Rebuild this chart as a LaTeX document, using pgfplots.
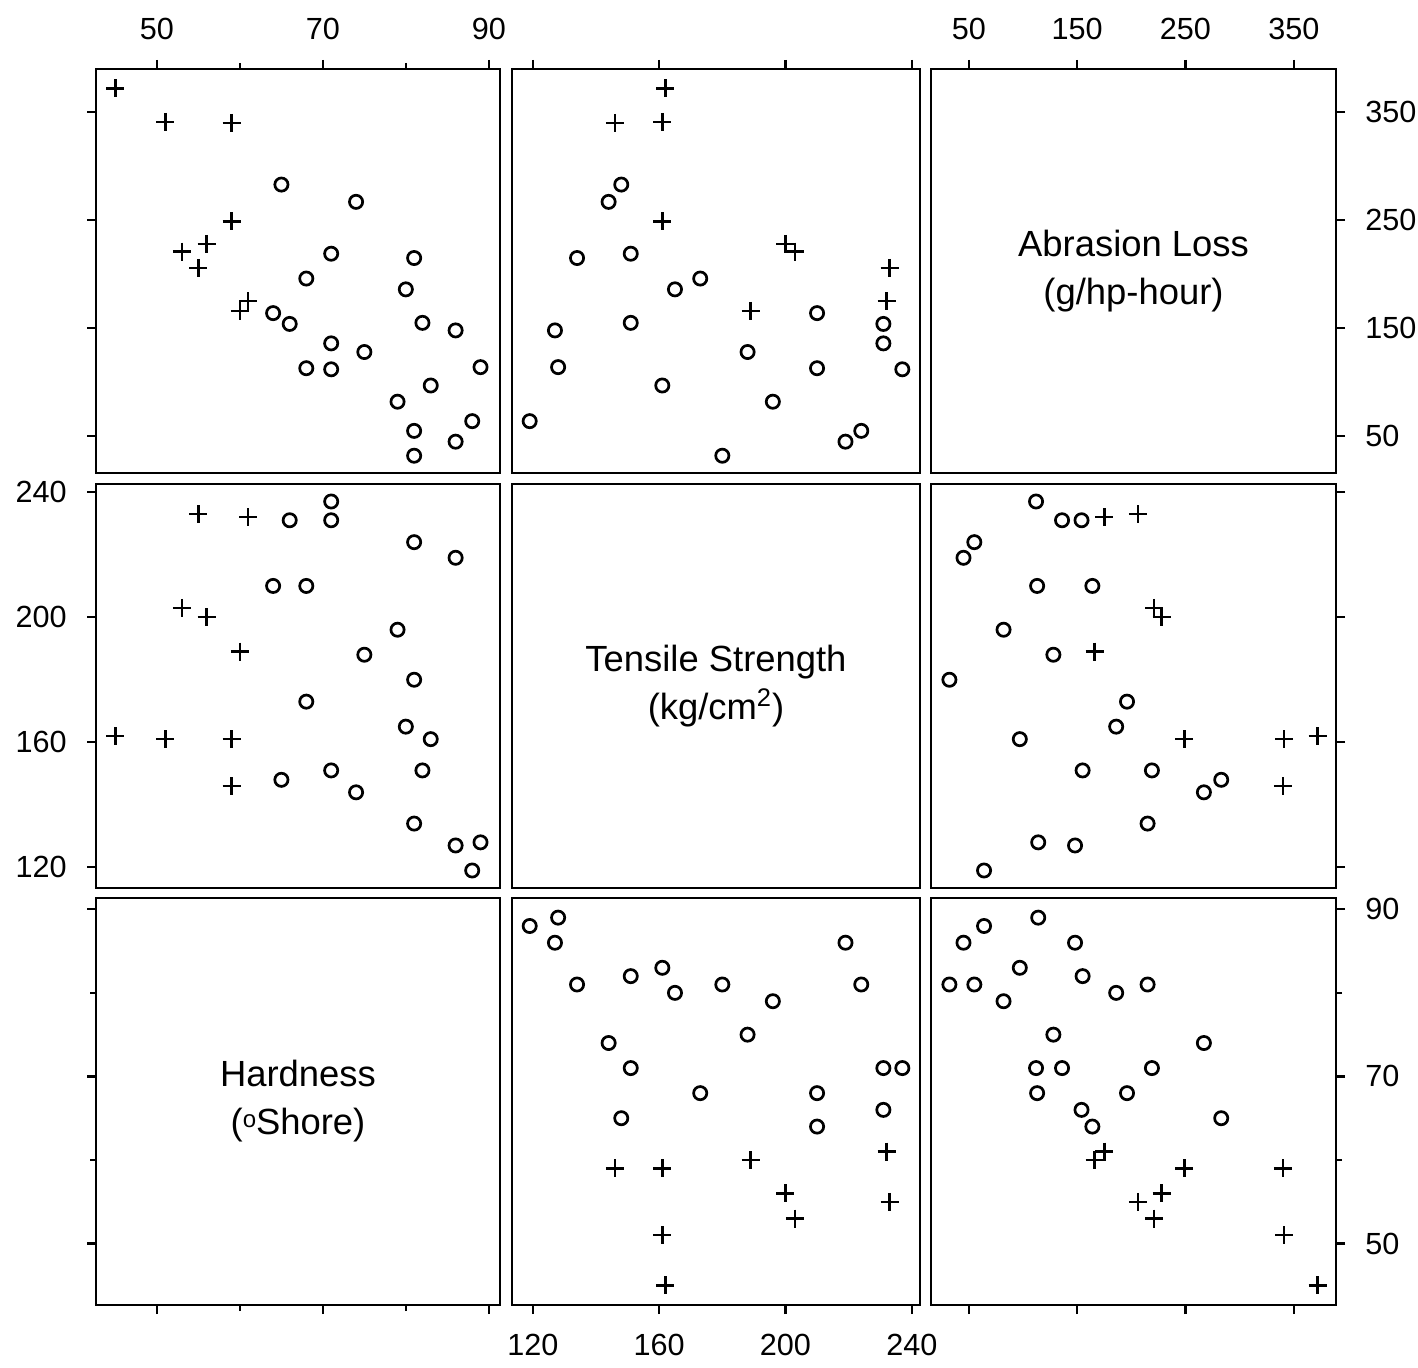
\documentclass[border=0pt]{standalone}
\usepackage{fontspec}
\setmainfont{Liberation Sans}
\usepackage{pgfplots}
\usepackage{pgfplotstable}
\pgfplotsset{compat=1.18}

\pgfplotstableread{
loss hard tens
372 45 162
175 61 232
221 53 203
166 60 189
228 56 200
249 59 161
341 51 161
340 59 146
206 55 233
}\plusdata

\pgfplotstableread{
loss hard tens
154 66 231
136 71 231
112 71 237
55 81 224
45 86 219
164 64 210
113 68 210
82 79 196
32 81 180
196 68 173
128 75 188
97 83 161
64 88 119
219 71 151
186 80 165
155 82 151
114 89 128
283 65 148
267 74 144
215 81 134
148 86 127
}\circdata

\tikzset{diaglabel/.style={align=center, font=\fontsize{18.2}{24}\selectfont}}

\pgfplotsset{
  panel/.style={scale only axis, anchor=south west, clip=false,
    axis line style={line width=1.4pt, black},
    every tick/.style={line width=1.1pt, black},
    tick align=outside, major tick length=4.5pt, minor tick length=3pt,
    xtick=\empty, ytick=\empty,
    ticklabel style={font=\fontsize{15.3}{18}\selectfont, inner sep=10pt},
    /pgf/number format/assume math mode=true},
  hardx/.style={xmin=42.65, xmax=91.35},
  hardy/.style={ymin=42.65, ymax=91.35},
  tensx/.style={xmin=113.4, xmax=242.6},
  tensy/.style={ymin=113.4, ymax=242.6},
  abrx/.style={xmin=15, xmax=389},
  abry/.style={ymin=16, ymax=390},
  hardxt/.style={xtick={50,70,90}, minor xtick={60,80}},
  hardyt/.style={ytick={50,70,90}, minor ytick={60,80}},
  tensxt/.style={xtick={120,160,200,240}},
  tensyt/.style={ytick={120,160,200,240}},
  abrxt/.style={xtick={50,150,250,350}},
  abryt/.style={ytick={50,150,250,350}},
  pmark/.style={only marks, black, mark=+, mark size=4.5pt, line width=1.25pt},
  cmark/.style={only marks, black, mark=o, mark size=3.3pt, line width=1.35pt}
}

\begin{document}
\begin{tikzpicture}
\path[use as bounding box] (0,0) rectangle (709pt,683.5pt);

% Row 1: y = Abrasion Loss
\begin{axis}[panel, at={(48pt,447pt)}, width=202pt, height=202pt, hardx, abry,
  hardxt, xtick pos=right, xticklabel pos=right,
  abryt, ytick pos=left, yticklabels={}]
\addplot[pmark] table[x=hard,y=loss]{\plusdata};
\addplot[cmark] table[x=hard,y=loss]{\circdata};
\end{axis}

\begin{axis}[panel, at={(256pt,447pt)}, width=204pt, height=202pt, tensx, abry,
  tensxt, xtick pos=right, xticklabels={}]
\addplot[pmark] table[x=tens,y=loss]{\plusdata};
\addplot[cmark] table[x=tens,y=loss]{\circdata};
\end{axis}

\begin{axis}[panel, at={(465.5pt,447pt)}, width=202.5pt, height=202pt, abrx, abry,
  abrxt, xtick pos=right, xticklabel pos=right,
  abryt, ytick pos=right, yticklabel pos=right]
\node[diaglabel] at (rel axis cs:0.5,0.5) {Abrasion Loss\\(g/hp-hour)};
\end{axis}

% Row 2: y = Tensile Strength
\begin{axis}[panel, at={(48pt,239.5pt)}, width=202pt, height=202pt, hardx, tensy,
  tensyt, ytick pos=left, yticklabel pos=left]
\addplot[pmark] table[x=hard,y=tens]{\plusdata};
\addplot[cmark] table[x=hard,y=tens]{\circdata};
\end{axis}

\begin{axis}[panel, at={(256pt,239.5pt)}, width=204pt, height=202pt, tensx, tensy]
\node[diaglabel] at (rel axis cs:0.5,0.5) {Tensile Strength\\(kg/cm\textsuperscript{2})};
\end{axis}

\begin{axis}[panel, at={(465.5pt,239.5pt)}, width=202.5pt, height=202pt, abrx, tensy,
  tensyt, ytick pos=right, yticklabels={}]
\addplot[pmark] table[x=loss,y=tens]{\plusdata};
\addplot[cmark] table[x=loss,y=tens]{\circdata};
\end{axis}

% Row 3: y = Hardness
\begin{axis}[panel, at={(48pt,31pt)}, width=202pt, height=203.5pt, hardx, hardy,
  hardxt, xtick pos=left, xticklabels={},
  hardyt, ytick pos=left, yticklabels={}]
\node[diaglabel] at (rel axis cs:0.5,0.5) {Hardness\\({\fontsize{12}{12}\selectfont\raisebox{0.55ex}{o}}Shore)};
\end{axis}

\begin{axis}[panel, at={(256pt,31pt)}, width=204pt, height=203.5pt, tensx, hardy,
  tensxt, xtick pos=left, xticklabel pos=left]
\addplot[pmark] table[x=tens,y=hard]{\plusdata};
\addplot[cmark] table[x=tens,y=hard]{\circdata};
\end{axis}

\begin{axis}[panel, at={(465.5pt,31pt)}, width=202.5pt, height=203.5pt, abrx, hardy,
  abrxt, xtick pos=left, xticklabels={},
  hardyt, ytick pos=right, yticklabel pos=right]
\addplot[pmark] table[x=loss,y=hard]{\plusdata};
\addplot[cmark] table[x=loss,y=hard]{\circdata};
\end{axis}
\end{tikzpicture}
\end{document}
